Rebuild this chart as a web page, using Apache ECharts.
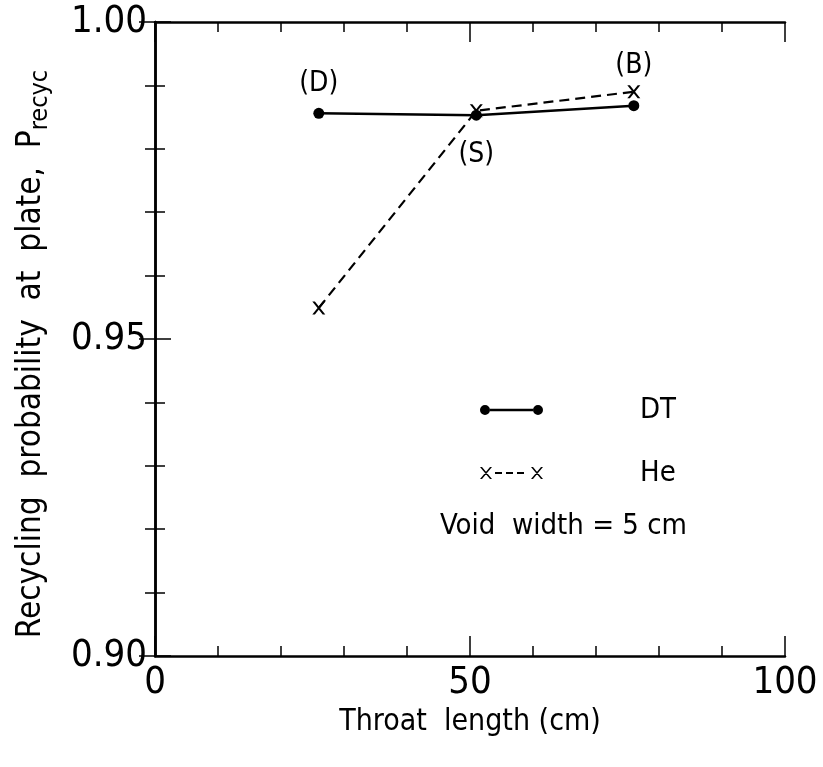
<!DOCTYPE html>
<html><head><meta charset="utf-8">
<script src="https://cdn.jsdelivr.net/npm/echarts@6/dist/echarts.min.js"></script>
<style>html,body{margin:0;padding:0;background:#fff}#c{width:823px;height:767px}</style>
</head><body><div id="c"></div>
<script>
// Data
const throatLength = [26, 51, 76];
const dtValues = [0.9856, 0.9853, 0.9868];
const heValues = [0.9549, 0.9860, 0.9890];
const dtLabels = ['(D)', '(S)', null];
const heLabels = [null, null, '(B)'];
const xTicks = [0, 50, 100];
const yTicks = [0.90, 0.95, 1.00];
const noteText = 'Void  width = 5 cm';

const FONT = "'DejaVu Sans Condensed', 'Liberation Sans Narrow', 'DejaVu Sans', sans-serif";
const X_PATH = 'path://M0,0L2,0L10,10L8,10Z M8,0L10,0L2,10L0,10Z';
const DT_ICON = 'path://M0,6a5,5 0 1,0 10,0a5,5 0 1,0 -10,0Z M10,4.8H53V7.2H10Z M53,6a5,5 0 1,0 10,0a5,5 0 1,0 -10,0Z';
const HE_ICON = 'path://M0,0L2,0L12,12L10,12Z M10,0L12,0L2,12L0,12Z M15,5H22V7H15Z M26,5H33V7H26Z M37,5H44V7H37Z M51,0L53,0L63,12L61,12Z M61,0L63,0L53,12L51,12Z';

const chart = echarts.init(document.getElementById('c'), null, {renderer: 'canvas'});

function xAxisDef(pos, showLabel, name) {
  return {
    type: 'value', position: pos, min: xTicks[0], max: xTicks[xTicks.length - 1], interval: 50,
    name: name, nameLocation: 'middle', nameGap: 46,
    nameTextStyle: {fontFamily: FONT, fontSize: 30, color: '#000'},
    axisLine: {show: true, lineStyle: {color: '#000', width: 2.5}},
    axisTick: {show: true, inside: true, length: 20, lineStyle: {color: '#000', width: 1.5}},
    minorTick: {show: true, splitNumber: 5, length: 10, lineStyle: {color: '#000', width: 1.5}},
    axisLabel: {show: showLabel, fontFamily: FONT, fontSize: 38, color: '#000', margin: 8,
      formatter: v => xTicks.includes(v) ? String(v) : ''},
    splitLine: {show: false}, minorSplitLine: {show: false}
  };
}
function yAxisDef(pos, showLabel, name) {
  return {
    type: 'value', position: pos, min: yTicks[0], max: yTicks[yTicks.length - 1], interval: 0.05,
    name: name, nameLocation: 'middle', nameGap: 102, nameRotate: 90,
    nameTextStyle: {fontFamily: FONT, color: '#000', padding: [0, 30, 0, 0],
      rich: {
        a: {fontFamily: FONT, fontSize: 33, lineHeight: 44, verticalAlign: 'middle', color: '#000'},
        b: {fontFamily: FONT, fontSize: 25, lineHeight: 25, verticalAlign: 'bottom', color: '#000'}
      }},
    axisLine: {show: true, lineStyle: {color: '#000', width: 2.5}},
    axisTick: {show: true, inside: true, length: 16, lineStyle: {color: '#000', width: 1.5}},
    minorTick: {show: true, splitNumber: 5, length: 10, lineStyle: {color: '#000', width: 1.5}},
    axisLabel: {show: showLabel, fontFamily: FONT, fontSize: 38, color: '#000', margin: 8,
      formatter: v => v.toFixed(2)},
    splitLine: {show: false}, minorSplitLine: {show: false}
  };
}

function mkData(vals, labels, pos, dist) {
  return throatLength.map((x, i) => {
    const d = {value: [x, vals[i]]};
    if (labels[i]) {
      d.label = {show: true, formatter: labels[i], position: pos[i], distance: dist[i],
        fontFamily: FONT, fontSize: 28, color: '#000'};
    }
    return d;
  });
}

chart.setOption({
  backgroundColor: '#fff',
  animation: false,
  grid: {left: 155, right: 38, top: 22, bottom: 111, containLabel: false},
  xAxis: [xAxisDef('bottom', true, 'Throat  length (cm)'), xAxisDef('top', false, '')],
  yAxis: [yAxisDef('left', true, '{a|Recycling  probability  at  plate,  P}{b|recyc}'), yAxisDef('right', false, '')],
  legend: {
    orient: 'vertical', left: 475, top: 390, itemWidth: 63, itemHeight: 13, itemGap: 33,
    textStyle: {fontFamily: FONT, fontSize: 29, color: '#000', lineHeight: 30, padding: [0, 0, 0, 92]},
    data: [{name: 'DT', icon: DT_ICON}, {name: 'He', icon: HE_ICON}]
  },
  graphic: [{
    type: 'text', left: 440, top: 512,
    style: {text: noteText, fontFamily: FONT, fontSize: 29, fill: '#000'}
  }],
  series: [
    {
      name: 'DT', type: 'line', xAxisIndex: 0, yAxisIndex: 0,
      data: mkData(dtValues, dtLabels, ['top', 'bottom', 'top'], [10, 20, 10]),
      symbol: 'circle', symbolSize: 11,
      lineStyle: {color: '#000', width: 2.5, type: 'solid'},
      itemStyle: {color: '#000'}
    },
    {
      name: 'He', type: 'line', xAxisIndex: 0, yAxisIndex: 0,
      data: mkData(heValues, heLabels, ['top', 'top', 'top'], [8, 8, 6]),
      symbol: X_PATH, symbolSize: 13,
      lineStyle: {color: '#000', width: 2.2, type: [10, 6]},
      itemStyle: {color: '#000'}
    }
  ]
});
</script>
</body></html>
